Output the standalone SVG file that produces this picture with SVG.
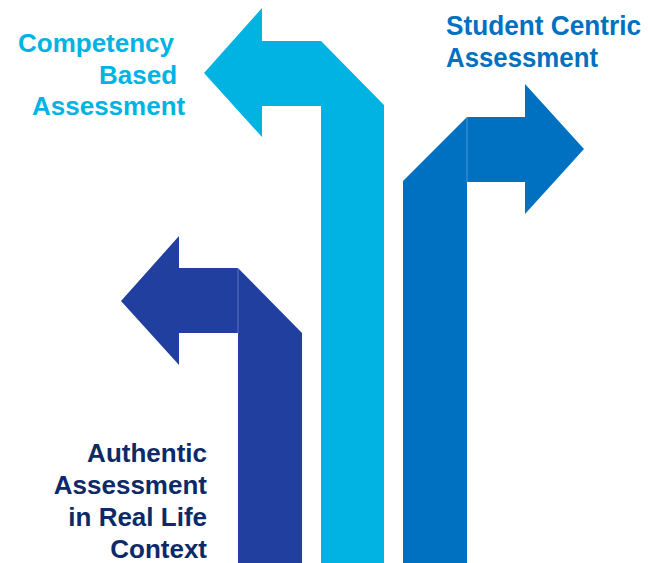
<svg xmlns="http://www.w3.org/2000/svg" width="648" height="563" viewBox="0 0 648 563">
  <style>
    .label { font-family: "Liberation Sans", Arial, sans-serif; font-weight: bold; font-size: 26px; }
    .seam { stroke: #ffffff; stroke-opacity: 0.35; stroke-width: 0.8; fill: none; }
  </style>
  <rect width="648" height="563" fill="#ffffff"/>

  <!-- Competency based: turns left, light blue -->
  <g id="competency-based">
    <path fill="#00B3E3" d="M204,73 L262,8 L262,41 L321,41 L384,105 L384,563 L321,563 L321,106 L262,106 L262,137 Z"/>
    <g class="label" fill="#00B3E3">
      <text x="18" y="52">Competency</text>
      <text x="99" y="83.5">Based</text>
      <text x="32" y="115">Assessment</text>
    </g>
  </g>

  <!-- Student centric: turns right, mid blue -->
  <g id="student-centric">
    <path fill="#0071C1" d="M403,563 L403,181 L467,117 L525,117 L525,84 L584,149 L525,214 L525,182 L467,182 L467,563 Z"/>
    <line class="seam" x1="467" y1="117" x2="467" y2="182"/>
    <g class="label" fill="#0070C0">
      <text x="446" y="35" textLength="195" lengthAdjust="spacingAndGlyphs" style="font-size:27px">Student Centric</text>
      <text x="446" y="66.5" textLength="152" lengthAdjust="spacingAndGlyphs" style="font-size:27px">Assessment</text>
    </g>
  </g>

  <!-- Authentic: turns left, navy -->
  <g id="authentic">
    <path fill="#213F9F" d="M121,301 L179,236 L179,268 L238,268 L302,333 L302,563 L238,563 L238,333 L179,333 L179,365 Z"/>
    <line class="seam" x1="238" y1="268" x2="238" y2="333"/>
    <g class="label" fill="#0D2A68" text-anchor="end">
      <text x="207" y="462">Authentic</text>
      <text x="207" y="494">Assessment</text>
      <text x="207" y="526">in Real Life</text>
      <text x="207" y="558">Context</text>
    </g>
  </g>

  <g id="connectors"/>
</svg>
